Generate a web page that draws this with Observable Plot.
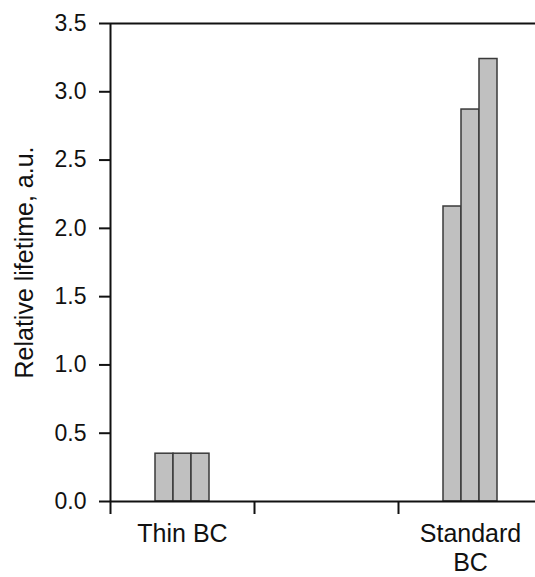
<!DOCTYPE html>
<html><head><meta charset="utf-8">
<script src="https://cdn.jsdelivr.net/npm/d3@7"></script>
<script src="https://cdn.jsdelivr.net/npm/@observablehq/plot@0.6"></script>
<style>body{margin:0;background:#fff} svg{display:block}</style>
</head><body><div id="chart"></div>
<script>
// ---- data ----
const categories = ["Thin BC", "Standard\nBC"];
const categorySlot = [0, 2];            // which axis interval each category occupies
const thinBC = [0.35, 0.35, 0.35];
const standardBC = [2.16, 2.87, 3.24];
const seriesValues = [thinBC, standardBC];
const yTicks = [0, 0.5, 1, 1.5, 2, 2.5, 3, 3.5];
const slotTicks = [0, 1, 2];
const yLabel = "Relative lifetime, a.u.";

// ---- build table ----
const barW = 0.125;
const rows = [];
seriesValues.forEach((vals, c) => {
  const center = categorySlot[c] + 0.5;
  vals.forEach((v, j) => {
    const x1 = center + (j - (vals.length) / 2) * barW;
    rows.push({cat: categories[c], x1, x2: x1 + barW, value: v});
  });
});
const centers = categorySlot.map(s => s + 0.5);

const W = 535, H = 577, ML = 110, MR = 0, MT = 23, MB = 76;
const font = "'Liberation Sans', Arial, sans-serif";

const chart = Plot.plot({
  width: W, height: H,
  marginLeft: ML, marginRight: MR, marginTop: MT, marginBottom: MB,
  style: {fontFamily: font, color: "#111", background: "#fff"},
  x: {domain: [0, (W - ML - MR) / 144]},
  y: {domain: [0, 3.5]},
  marks: [
    Plot.rectY(rows, {x1: "x1", x2: "x2", y: "value", fill: "#c0c0c0", stroke: "#3a3a3a", strokeWidth: 1.5}),
    Plot.ruleY([3.5], {stroke: "#111", strokeWidth: 2}),
    Plot.ruleY([0], {stroke: "#111", strokeWidth: 2}),
    Plot.ruleX([0], {y1: 0, y2: 3.5, stroke: "#111", strokeWidth: 2}),
    Plot.axisY({ticks: yTicks, tickFormat: d3.format(".1f"), tickSize: 11, tickPadding: 13,
                fontSize: 23, strokeWidth: 2, label: null}),
    Plot.axisX({ticks: slotTicks, tickSize: 13, tickFormat: () => "", strokeWidth: 2, label: null}),
    Plot.axisX({ticks: centers, tickSize: 0, tickPadding: 20, fontSize: 25, lineHeight: 1.15,
                tickFormat: (d) => categories[centers.indexOf(d)], label: null}),
    Plot.text([yLabel], {frameAnchor: "left", dx: -(ML - 24), rotate: -90, textAnchor: "middle",
                         fontSize: 25, fill: "#111"})
  ]
});
document.getElementById("chart").appendChild(chart);
</script>
</body></html>
